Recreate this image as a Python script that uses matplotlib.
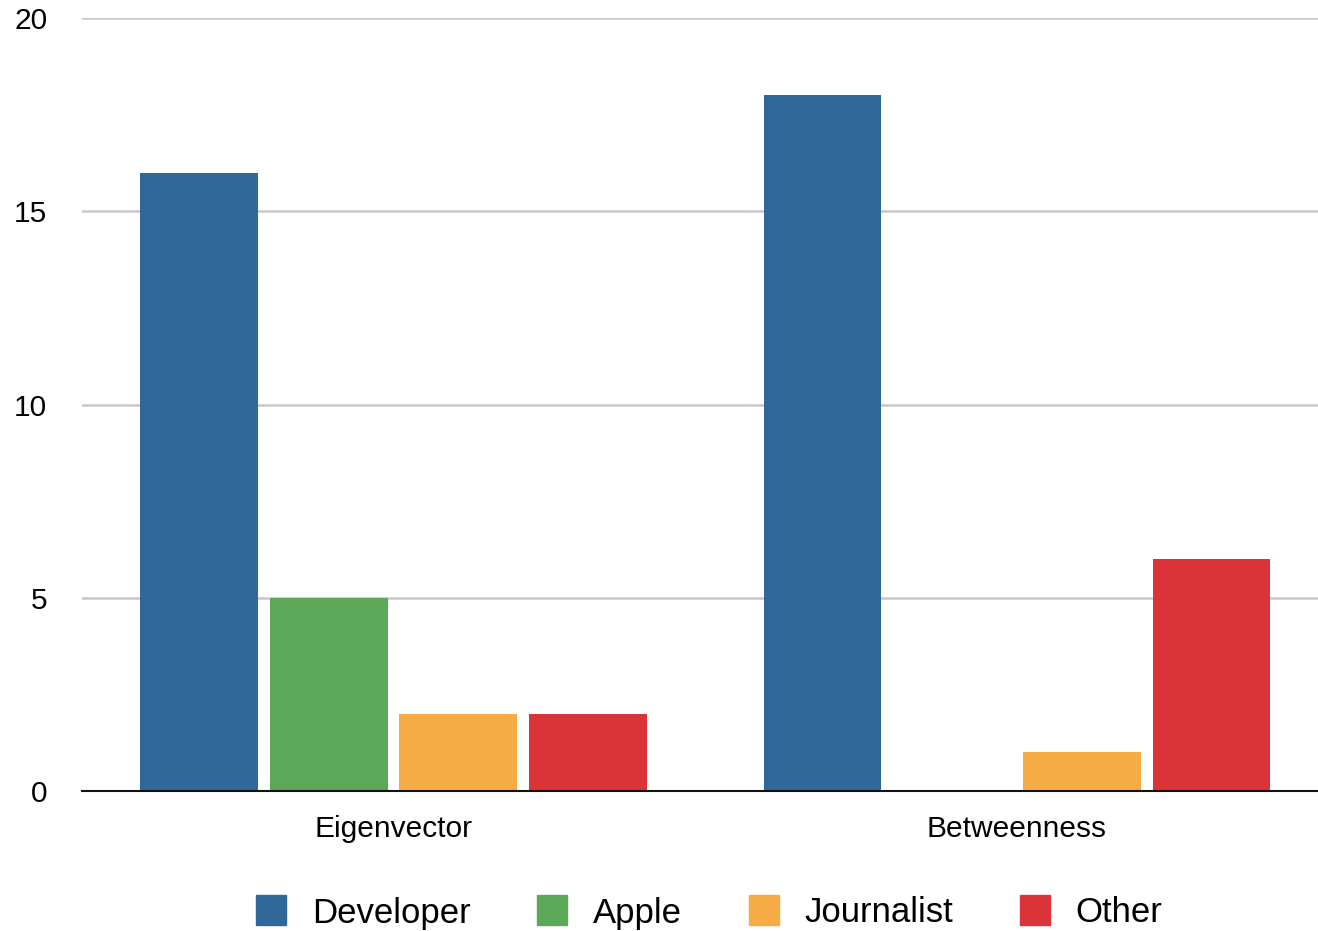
import matplotlib
matplotlib.use("Agg")
import matplotlib.pyplot as plt
from matplotlib.lines import Line2D
import numpy as np

plt.rcParams['font.family'] = ['Liberation Sans', 'DejaVu Sans']

categories = ["Eigenvector", "Betweenness"]
series = ["Developer", "Apple", "Journalist", "Other"]
developer = [16, 18]
apple = [5, 0]
journalist = [2, 1]
other = [2, 6]
values = [developer, apple, journalist, other]
colors = ["#31689a", "#5ca858", "#f6ac45", "#da3438"]

fig = plt.figure(figsize=(13.18, 9.31), dpi=100)
ax = fig.add_axes([82 / 1318, 140 / 931, 1 - 82 / 1318, (913 - 140) / 931])

x = np.arange(len(categories))
slot = 0.208
width = 0.189
offsets = (np.arange(len(series)) - 1.5) * slot

for vals, off, col in zip(values, offsets, colors):
    ax.bar(x + off, vals, width=width, color=col, zorder=3)

ax.set_xlim(-0.4996, 1.4828)
ax.set_ylim(0, 20)
ax.set_yticks([0, 5, 10, 15, 20])
ax.set_xticks(x)
ax.set_xticklabels(categories)
ax.tick_params(axis='y', length=0, pad=25, labelsize=21.5)
ax.tick_params(axis='x', length=0, pad=17, labelsize=21.5)

ax.grid(axis='y', color='#c8c8c8', linewidth=1.8, zorder=0)
ax.set_axisbelow(True)
for s in ['top', 'right', 'left']:
    ax.spines[s].set_visible(False)
ax.spines['bottom'].set_linewidth(1.5)
ax.spines['bottom'].set_color('#111111')
ax.spines['bottom'].set_zorder(4)

handles = [Line2D([], [], marker='s', linestyle='none', markersize=22,
                  markerfacecolor=c, markeredgecolor=c) for c in colors]
fig.legend(handles, series, loc='center', bbox_to_anchor=(709 / 1318, 18 / 931),
           ncol=4, frameon=False, fontsize=25, handlelength=0.9,
           handletextpad=0.72, columnspacing=1.9)

fig.savefig("out.png", dpi=100)
